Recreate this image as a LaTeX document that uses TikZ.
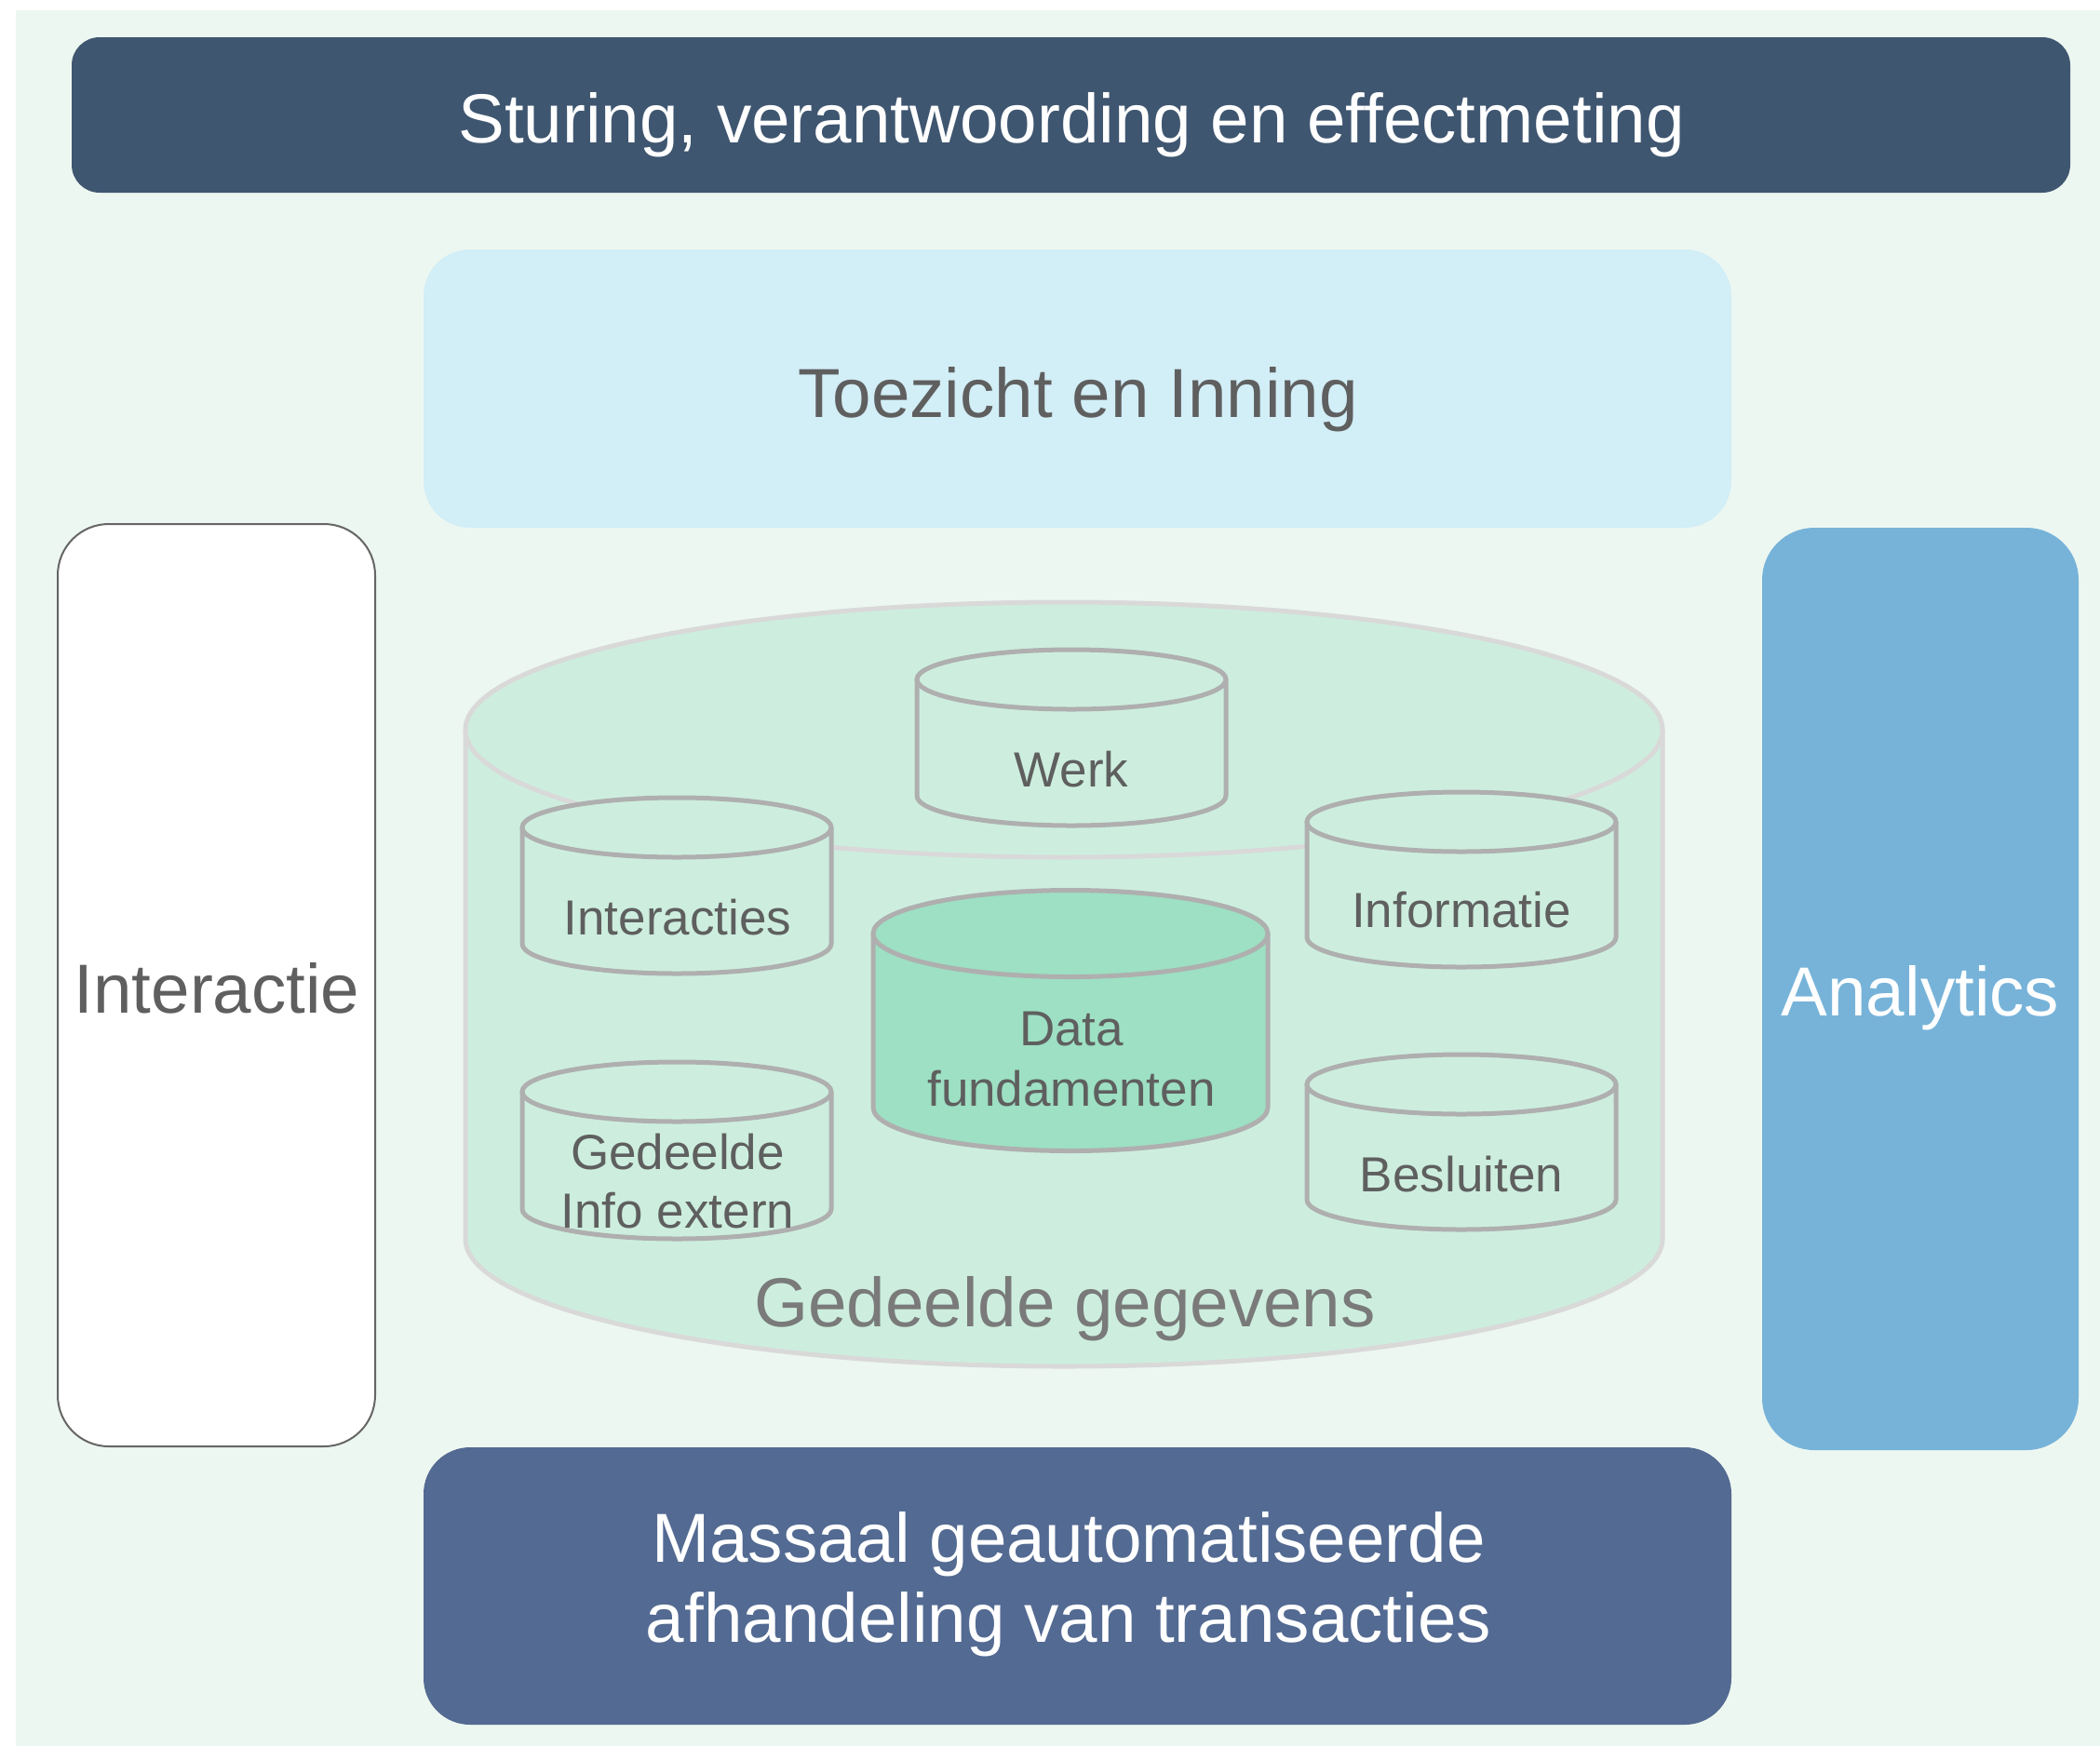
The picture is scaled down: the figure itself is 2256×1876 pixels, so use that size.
\documentclass[tikz,border=0pt]{standalone}
\usepackage{fontspec}
\setmainfont{Liberation Sans}
\definecolor{bgmint}{HTML}{EDF7F1}
\definecolor{topbar}{HTML}{3F5670}
\definecolor{toez}{HTML}{D2EEF7}
\definecolor{analyt}{HTML}{77B3D9}
\definecolor{botbox}{HTML}{536A92}
\definecolor{bigcyl}{HTML}{CDEEDF}
\definecolor{bigline}{HTML}{D9D9D9}
\definecolor{smline}{HTML}{AFAFAF}
\definecolor{datafill}{HTML}{9DE0C3}
\definecolor{txtgray}{HTML}{5F5F5F}
\definecolor{txtlight}{HTML}{7A7A7A}
\definecolor{boxline}{HTML}{666666}
\newcommand{\bigfont}{\fontsize{37.3}{43}\selectfont}
\newcommand{\smfont}{\fontsize{26.5}{32.5}\selectfont}
% \mycyl{cx}{ytop}{ybot}{rx}{ry(pt)}{rx(pt)}{fill}{line}{width}
\newcommand{\mycyl}[9]{%
  \path[fill=#7] (#1-#4,#2) -- (#1-#4,#3)
     arc[start angle=180,end angle=360,x radius=#6pt,y radius=#5pt]
     -- (#1+#4,#2) -- cycle;
  \draw[#8,line width=#9] (#1-#4,#2) -- (#1-#4,#3)
     arc[start angle=180,end angle=360,x radius=#6pt,y radius=#5pt]
     -- (#1+#4,#2);
  \draw[#8,line width=#9,fill=#7] (#1,#2) ellipse[x radius=#6pt,y radius=#5pt];
}
\begin{document}
\begin{tikzpicture}[x=0.5pt,y=-0.5pt,
  bigtxt/.style={font=\bigfont,anchor=base,inner sep=0pt},
  smtxt/.style={font=\smfont,anchor=base,inner sep=0pt,text=txtgray,align=center}]
\useasboundingbox (0,0) rectangle (2256,1876);
\fill[white] (0,0) rectangle (2256,1876);
\fill[bgmint] (17,11) rectangle (2256,1876);
% boxes
\fill[topbar,rounded corners=15pt] (77,40) rectangle (2224,207);
\fill[toez,rounded corners=25pt] (455,268) rectangle (1860,567);
\filldraw[fill=white,draw=boxline,line width=1pt,rounded corners=27.5pt] (62,563) rectangle (403,1554);
\fill[analyt,rounded corners=28pt] (1893,567) rectangle (2233,1558);
\fill[botbox,rounded corners=25pt] (455,1555) rectangle (1860,1853);
% big cylinder
\mycyl{1143}{784}{1331}{643}{68.5}{321.5}{bigcyl}{bigline}{2.5pt}
% small cylinders
\mycyl{1151}{730}{855}{166}{16}{83}{bigcyl}{smline}{2.5pt}
\mycyl{727}{889}{1014}{166}{16}{83}{bigcyl}{smline}{2.5pt}
\mycyl{1570}{883}{1007}{166}{16}{83}{bigcyl}{smline}{2.5pt}
\mycyl{727}{1173}{1299}{166}{16}{83}{bigcyl}{smline}{2.5pt}
\mycyl{1570}{1165}{1289}{166}{16}{83}{bigcyl}{smline}{2.5pt}
\mycyl{1150}{1003}{1190}{212}{23.25}{106}{datafill}{smline}{2.5pt}
% texts
\node[bigtxt,text=white] (sturing) at (1151,153) {Sturing, verantwoording en effectmeting};
\node[bigtxt,text=txtgray] (toezicht) at (1158,448) {Toezicht en Inning};
\node[bigtxt,text=txtgray] (interactie) at (233,1088) {Interactie};
\node[bigtxt,text=white] (analytics) at (2063,1091) {Analytics};
\node[bigtxt,text=white] (massaal1) at (1148,1678) {Massaal geautomatiseerde};
\node[bigtxt,text=white] (massaal2) at (1148,1764) {afhandeling van transacties};
\node[bigtxt,text=txtlight] (gedeeld) at (1144,1425) {Gedeelde gegevens};
\node[smtxt] (werk) at (1151,845) {Werk};
\node[smtxt] (interacties) at (728,1004) {Interacties};
\node[smtxt] (informatie) at (1570,996) {Informatie};
\node[smtxt] (data1) at (1151,1123) {Data};
\node[smtxt] (data2) at (1151,1188) {fundamenten};
\node[smtxt] (ged1) at (728,1256) {Gedeelde};
\node[smtxt] (ged2) at (728,1319) {Info extern};
\node[smtxt] (besluiten) at (1570,1280) {Besluiten};
\end{tikzpicture}
\end{document}
